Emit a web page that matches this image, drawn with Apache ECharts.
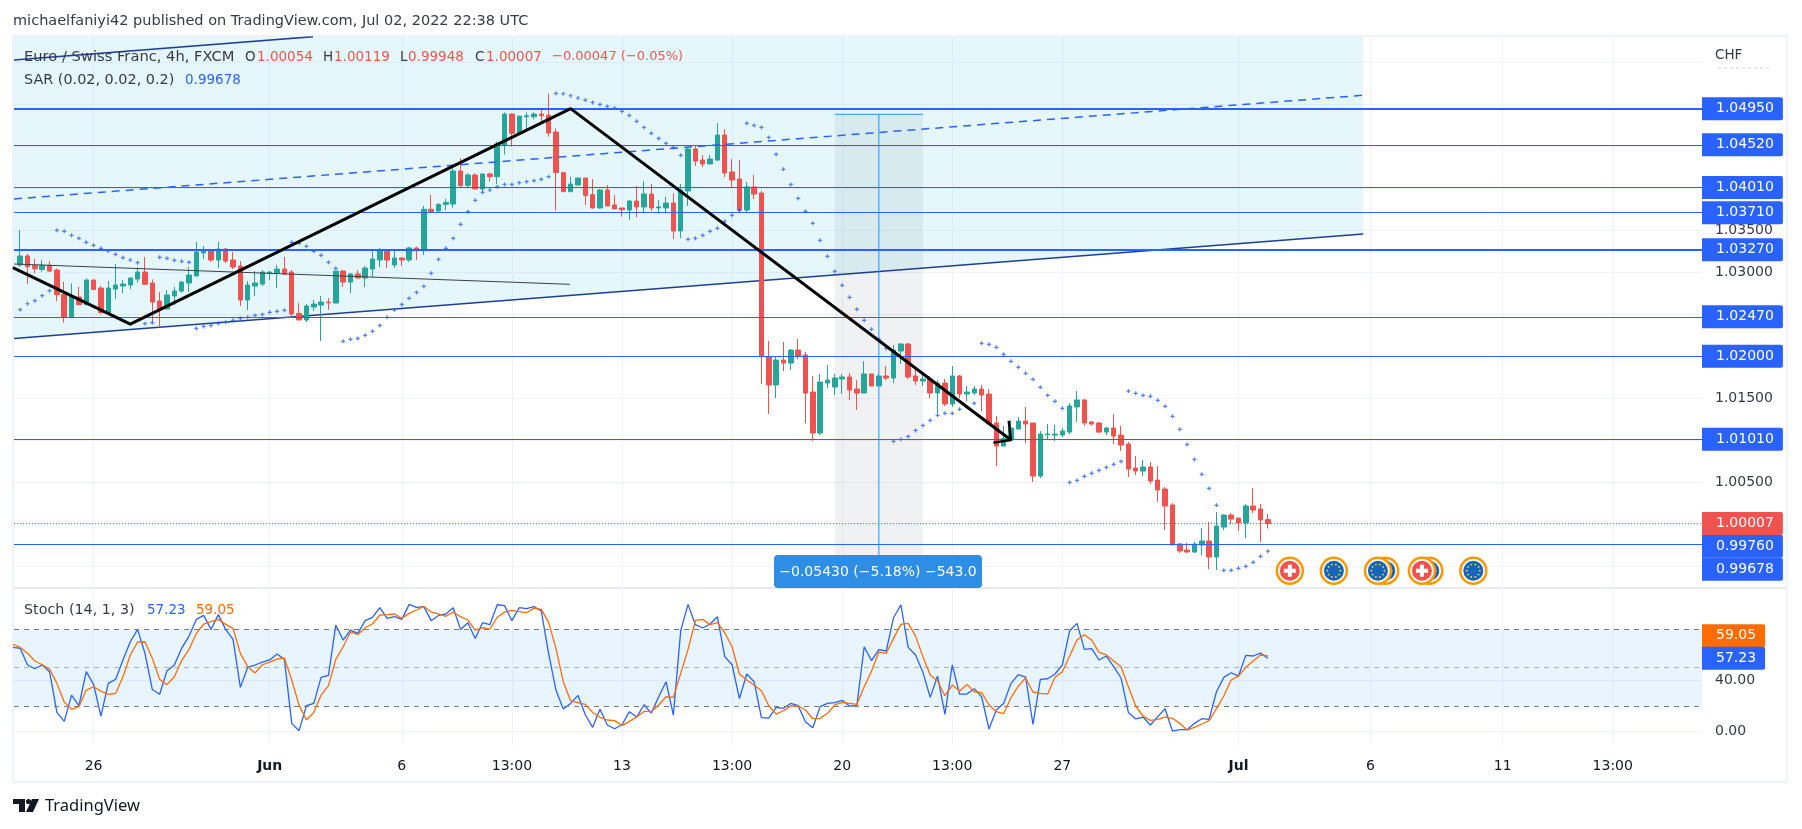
<!DOCTYPE html>
<html>
<head>
<meta charset="utf-8">
<title>EURCHF</title>
<script src="https://cdn.jsdelivr.net/npm/echarts@6/dist/echarts.min.js"></script>
<style>html,body{margin:0;padding:0;background:#fff}#main{width:1802px;height:829px}</style>
</head>
<body>
<div id="main"></div>
<script>
// candles, 4h bars, index 0 is the first whole bar on screen
var opens=[
1.03088,1.03195,1.03080,1.03035,1.03084,1.03027,1.02737,1.02464,1.02706,1.02614,
1.02908,1.02813,1.02519,1.02801,1.02837,1.02849,1.02920,1.03003,1.02873,1.02658,
1.02563,1.02718,1.02777,1.02873,1.02956,1.03231,1.03266,1.03147,1.03278,1.03147,
1.03075,1.02670,1.02837,1.02861,1.02992,1.02992,1.03039,1.03003,1.02511,1.02432,
1.02587,1.02610,1.02646,1.02634,1.03015,1.02884,1.02980,1.02932,1.03039,1.03147,
1.03254,1.03088,1.03171,1.03147,1.03290,1.03258,1.03751,1.03731,1.03810,1.03814,
1.04207,1.04037,1.04160,1.03993,1.04172,1.04140,1.04513,1.04886,1.04656,1.04854,
1.04854,1.04886,1.04874,1.04672,1.04188,1.03961,1.04040,1.04124,1.03925,1.03767,
1.03981,1.03802,1.03767,1.03743,1.03850,1.03779,1.03933,1.03767,1.03767,1.03826,
1.03493,1.03969,1.04469,1.04338,1.04291,1.04338,1.04636,1.04196,1.04112,1.03743,
1.04017,1.03945,1.01995,1.01658,1.01955,1.01919,1.02074,1.02015,1.01574,1.01085,
1.01681,1.01634,1.01729,1.01753,1.01610,1.01562,1.01789,1.01646,1.01765,1.01741,
1.02063,1.02146,1.01765,1.01705,1.01729,1.01562,1.01681,1.01431,1.01765,1.01550,
1.01562,1.01610,1.01550,1.01205,1.00930,1.01002,1.01133,1.01228,1.01205,1.00573,
1.01065,1.01061,1.01061,1.01097,1.01396,1.01479,1.01217,1.01205,1.01097,1.01145,
1.01061,1.00954,1.00668,1.00632,1.00680,1.00525,1.00418,1.00228,0.99763,0.99692,
0.99668,0.99751,0.99799,0.99608,0.99965,1.00108,1.00072,1.00013,1.00216,1.00180,1.00054];
var closes=[
1.03195,1.03067,1.03043,1.03084,1.03015,1.02734,1.02464,1.02710,1.02614,1.02908,
1.02797,1.02519,1.02813,1.02849,1.02861,1.02932,1.03003,1.02857,1.02646,1.02563,
1.02730,1.02777,1.02884,1.02968,1.03243,1.03266,1.03147,1.03278,1.03135,1.03063,
1.02670,1.02849,1.02873,1.03003,1.03003,1.03039,1.02980,1.02503,1.02432,1.02599,
1.02622,1.02646,1.02638,1.03015,1.02884,1.02980,1.02932,1.03051,1.03159,1.03266,
1.03147,1.03171,1.03147,1.03290,1.03258,1.03751,1.03723,1.03810,1.03834,1.04207,
1.04033,1.04160,1.03993,1.04172,1.04140,1.04529,1.04886,1.04656,1.04862,1.04866,
1.04886,1.04866,1.04660,1.04190,1.03961,1.04052,1.04124,1.03917,1.03767,1.03981,
1.03791,1.03755,1.03747,1.03850,1.03779,1.03933,1.03767,1.03779,1.03826,1.03493,
1.03981,1.04469,1.04326,1.04291,1.04350,1.04636,1.04184,1.04100,1.03743,1.04017,
1.03933,1.01995,1.01658,1.01955,1.01919,1.02074,1.02003,1.01562,1.01085,1.01693,
1.01717,1.01741,1.01753,1.01598,1.01562,1.01789,1.01646,1.01765,1.01741,1.02074,
1.02146,1.01753,1.01705,1.01729,1.01562,1.01681,1.01431,1.01765,1.01550,1.01574,
1.01610,1.01538,1.01193,1.00930,1.01021,1.01145,1.01228,1.01193,1.00573,1.01073,
1.01073,1.01073,1.01109,1.01408,1.01479,1.01205,1.01193,1.01097,1.01145,1.01049,
1.00942,1.00656,1.00632,1.00680,1.00513,1.00406,1.00216,0.99751,0.99680,0.99668,
0.99763,0.99799,0.99608,0.99977,1.00108,1.00060,1.00013,1.00216,1.00168,1.00049,1.00007];
var lows=[
1.03067,1.02861,1.02988,1.03007,1.03007,1.02658,1.02400,1.02452,1.02614,1.02614,
1.02789,1.02503,1.02503,1.02682,1.02749,1.02801,1.02876,1.02849,1.02400,1.02345,
1.02563,1.02610,1.02757,1.02765,1.02956,1.03159,1.03124,1.03051,1.03111,1.03039,
1.02599,1.02551,1.02718,1.02837,1.02908,1.02813,1.02968,1.02456,1.02432,1.02408,
1.02539,1.02182,1.02551,1.02634,1.02825,1.02753,1.02932,1.02825,1.02944,1.03063,
1.03051,1.03051,1.03075,1.03124,1.03147,1.03207,1.03703,1.03723,1.03743,1.03771,
1.04001,1.04001,1.03993,1.03961,1.04080,1.04052,1.04406,1.04497,1.04656,1.04696,
1.04823,1.04767,1.04616,1.03735,1.03961,1.03961,1.04040,1.03802,1.03759,1.03759,
1.03791,1.03755,1.03663,1.03624,1.03659,1.03703,1.03731,1.03703,1.03703,1.03398,
1.03409,1.03791,1.04267,1.04255,1.04291,1.04326,1.04136,1.04017,1.03719,1.03719,
1.03874,1.01670,1.01312,1.01502,1.01824,1.01836,1.01967,1.01200,1.00990,1.01061,
1.01622,1.01538,1.01550,1.01479,1.01360,1.01562,1.01646,1.01646,1.01717,1.01681,
1.01908,1.01729,1.01658,1.01646,1.01502,1.01324,1.01408,1.01396,1.01502,1.01467,
1.01538,1.01348,1.01193,1.00692,1.00930,1.01002,1.01133,1.00966,1.00501,1.00549,
1.01002,1.00990,1.01037,1.01073,1.01217,1.01172,1.01172,1.01085,1.01061,1.00954,
1.00871,1.00561,1.00585,1.00573,1.00477,1.00263,0.99930,0.99751,0.99656,0.99656,
0.99656,0.99628,0.99465,0.99453,0.99930,1.00001,0.99918,0.99834,1.00132,0.99787,0.99948];
var highs=[
1.03505,1.03219,1.03159,1.03147,1.03135,1.03047,1.02888,1.02869,1.02829,1.02928,
1.02916,1.02837,1.02896,1.03099,1.02908,1.02940,1.03059,1.03183,1.02916,1.02765,
1.02789,1.02825,1.02896,1.03063,1.03362,1.03314,1.03266,1.03362,1.03290,1.03243,
1.03135,1.02896,1.03015,1.03027,1.03015,1.03088,1.03183,1.03027,1.02634,1.02622,
1.02670,1.02718,1.02694,1.03015,1.03027,1.02992,1.03027,1.03075,1.03266,1.03290,
1.03266,1.03266,1.03183,1.03302,1.03306,1.03791,1.03921,1.03822,1.03874,1.04239,
1.04362,1.04180,1.04180,1.04180,1.04188,1.04557,1.04906,1.04894,1.04862,1.04906,
1.04906,1.04950,1.05132,1.04716,1.04188,1.04140,1.04124,1.04124,1.04112,1.03993,
1.04040,1.03921,1.03767,1.03862,1.04029,1.04088,1.04052,1.03862,1.03902,1.03941,
1.04052,1.04481,1.04505,1.04398,1.04398,1.04779,1.04708,1.04350,1.04338,1.04076,
1.04160,1.03969,1.02182,1.01995,1.02170,1.02086,1.02206,1.02051,1.01765,1.01789,
1.01896,1.01789,1.01789,1.01801,1.01717,1.01943,1.01789,1.01789,1.01884,1.02134,
1.02158,1.02158,1.01848,1.01812,1.01765,1.01717,1.01729,1.01884,1.01777,1.01646,
1.01646,1.01658,1.01610,1.01288,1.01172,1.01240,1.01276,1.01396,1.01205,1.01109,
1.01193,1.01181,1.01145,1.01443,1.01586,1.01491,1.01229,1.01217,1.01157,1.01312,
1.01172,1.00978,1.00811,1.00763,1.00740,1.00692,1.00442,1.00251,0.99775,0.99775,
0.99787,0.99953,1.00025,1.00144,1.00120,1.00132,1.00072,1.00239,1.00430,1.00239,1.00119];
var sarValues=[
1.02555,1.02626,1.02662,1.02722,1.02781,1.03501,1.03489,1.03441,1.03405,1.03358,
1.03322,1.03286,1.03254,1.03215,1.03175,1.03147,1.03115,1.02388,1.02400,1.03179,
1.03167,1.03143,1.03131,1.03119,1.02333,1.02356,1.02368,1.02392,1.02404,1.02428,
1.02452,1.02464,1.02487,1.02499,1.02523,1.02535,1.02547,1.03358,1.03346,1.03310,
1.03250,1.03203,1.03119,1.03047,1.02178,1.02202,1.02213,1.02249,1.02297,1.02368,
1.02464,1.02551,1.02618,1.02690,1.02761,1.02833,1.02988,1.03155,1.03286,1.03405,
1.03572,1.03723,1.03858,1.03953,1.03981,1.04021,1.04048,1.04048,1.04068,1.04080,
1.04092,1.04108,1.04140,1.05132,1.05128,1.05104,1.05077,1.05053,1.05025,1.05001,
1.04977,1.04957,1.04917,1.04870,1.04799,1.04727,1.04656,1.04596,1.04537,1.04489,
1.04394,1.03393,1.03405,1.03441,1.03489,1.03524,1.03608,1.03679,1.03739,1.04775,
1.04751,1.04727,1.04608,1.04406,1.04227,1.04048,1.03881,1.03727,1.03584,1.03382,
1.03191,1.03011,1.02845,1.02702,1.02559,1.02428,1.02321,1.02202,1.02094,1.00986,
1.01010,1.01045,1.01117,1.01176,1.01236,1.01296,1.01320,1.01320,1.01368,1.01392,
1.01439,1.02154,1.02142,1.02106,1.02023,1.01940,1.01868,1.01797,1.01725,1.01630,
1.01535,1.01463,1.01380,1.00497,1.00521,1.00569,1.00605,1.00640,1.00676,1.00712,
1.00747,1.01585,1.01558,1.01535,1.01523,1.01475,1.01404,1.01284,1.01129,1.00950,
1.00771,1.00593,1.00426,1.00224,0.99449,0.99449,0.99473,0.99497,0.99545,0.99616,0.99678];
// stochastic, these two start one bar earlier, at index -1
var stochK=[65.6,
64.9,51.9,49.0,51.9,46.7,15.0,8.0,28.5,20.2,46.7,
36.8,12.2,37.6,40.7,55.8,70.0,79.6,61.0,32.9,29.1,
47.5,51.9,64.9,74.4,87.4,90.5,79.6,91.1,79.6,71.9,
34.5,50.1,51.9,54.2,55.8,60.4,56.3,6.5,0.8,20.2,
22.0,42.3,43.8,83.0,71.3,79.1,76.5,86.4,89.0,96.5,
88.2,89.5,87.4,99.1,96.8,97.3,86.4,90.5,91.6,96.5,
79.6,84.8,72.6,84.8,83.3,98.8,98.1,86.4,96.5,95.7,
97.3,93.9,61.0,32.4,17.6,22.0,28.3,13.2,3.4,17.5,
5.2,2.3,5.4,15.6,11.4,21.0,14.5,27.2,38.9,13.0,
78.6,99.1,83.3,80.7,83.8,89.5,58.4,52.1,25.7,44.9,
38.9,10.9,10.6,18.9,18.2,22.0,20.2,7.8,3.1,19.5,
22.0,22.6,24.4,20.0,20.2,66.1,55.3,63.8,62.8,88.7,
98.8,65.6,59.7,46.2,26.7,43.3,13.5,51.9,29.3,29.3,
33.5,27.2,2.1,16.9,22.0,37.6,44.4,42.5,5.7,40.7,
41.2,44.9,51.9,78.6,84.3,64.1,64.6,55.8,58.9,50.6,
41.8,15.0,9.9,11.4,5.2,11.7,17.9,0.5,1.6,1.6,
6.5,10.1,9.6,31.1,42.3,45.9,43.3,59.4,58.9,61.2,57.23];
var stochD=[68.0,
65.6,61.0,55.0,52.1,48.8,37.6,23.1,17.4,19.5,32.4,
35.0,31.6,29.1,29.8,42.8,59.7,69.8,70.0,57.1,40.7,
36.6,42.8,55.3,64.1,76.5,83.8,85.6,87.4,83.5,80.4,
61.0,50.6,45.7,52.1,54.2,56.5,57.3,40.2,20.5,9.3,
15.0,28.5,35.8,56.3,66.1,77.6,75.7,80.9,83.8,90.8,
91.1,91.6,88.2,92.1,94.7,97.5,93.1,91.6,89.8,93.1,
89.5,86.9,79.1,80.9,79.9,89.0,93.1,94.4,93.4,92.6,
96.2,95.2,85.1,64.9,38.9,23.9,22.6,21.3,15.0,11.2,
9.1,8.6,4.7,8.0,11.4,15.8,15.8,20.8,27.2,26.7,
45.4,64.1,86.6,87.4,83.3,84.8,77.0,66.1,44.9,40.2,
36.3,31.9,20.2,13.7,16.3,20.0,20.2,16.9,10.1,10.4,
14.3,20.8,22.8,22.0,21.3,35.0,47.0,62.0,61.0,72.6,
83.5,84.3,74.4,58.4,44.1,39.4,28.0,36.3,31.6,36.8,
31.1,30.4,21.0,15.6,14.0,26.5,35.5,41.8,30.9,29.8,
29.3,42.3,46.7,58.9,71.3,75.5,71.3,61.7,59.7,55.0,
50.6,35.0,20.0,12.2,8.8,9.6,11.4,10.4,6.5,1.3,
3.4,6.0,8.6,17.9,27.8,40.2,43.3,50.1,55.0,59.7,59.05];

// time axis ticks
var tickIndex=[10,34,52,67,82,97,112,127,142,166,184,202,217];
var tickLabels=['26','Jun','6','13:00','13','13:00','20','13:00','27','Jul','6','11','13:00'];
var monthLabels=['Jun','Jul'];
// price axis
var priceGrid=[1.055,1.05,1.045,1.04,1.035,1.03,1.025,1.02,1.015,1.01,1.005,1,0.995];
var priceTicks=[1.035,1.03,1.015,1.005];
var stochTicks=[40,0];
// horizontal levels drawn on the chart
var levelPrices=[1.0452,1.0401,1.0371,1.0247,1.02,1.0101,0.9976];
var heavyLevels=[1.0495,1.0327];
var lastPrice=1.00007;
var lastSar=0.99678;
// drawings, [bar index, price]
var zigzag=[[-1,1.03055],[15,1.02384],[75,1.0495],[135,1.01002]];
var arrowHead=[[134.7,1.01231],[135,1.01002],[132.6,1.00971]];
var channelLow=[[-0.845,1.02213],[183,1.03457]];
var channelHigh=[[-0.845,1.0553],[39.9,1.05808]];
var channelMid=[[-0.845,1.03874],[183,1.0511]];
var thinTrend=[[-0.845,1.03099],[74.9,1.02857]];
var rangeBars=[111,117,123];
var rangePrices=[1.04883,0.99453];
// economic calendar flags, in drawing order
var flagBars=[173,179,186,185,192,191,198];
var flagKinds=['CH','EU','EU','EU','EU','CH','EU'];
var flagPrice=0.99445;

var UP='#26a69a', DOWN='#ef5350', BLUE='#2962ff', ORANGE='#ff6d00', GRID='#f0f3fa';
var FONT='"DejaVu Sans", sans-serif';
var xMin=-0.845, xMax=229.16;

var candleData=opens.map(function(o,i){return [i,o,closes[i],lows[i],highs[i]];});
var sarData=sarValues.map(function(v,i){return [i,v];});
var kData=stochK.map(function(v,i){return [i-1,v];});
var dData=stochD.map(function(v,i){return [i-1,v];});

function boxLabel(bg,dy){
    return {show:true,position:'end',distance:0,offset:[0,dy||0],color:'#fff',backgroundColor:bg,
        fontFamily:FONT,fontSize:14,padding:[4,9,4,14],borderRadius:[0,2,2,0],lineHeight:15,
        formatter:function(p){return Number(p.value).toFixed(5);}};
}
function levelLine(price,width,dy){
    return {yAxis:price,lineStyle:{color:BLUE,width:width,type:'solid'},label:boxLabel(BLUE,dy)};
}
var levelData=[];
heavyLevels.forEach(function(p){levelData.push(levelLine(p,2,0));});
levelPrices.forEach(function(p){levelData.push(levelLine(p,1,p<1?2:0));});
levelData.push({yAxis:lastPrice,lineStyle:{color:DOWN,width:1,type:[1,2]},label:boxLabel(DOWN,0)});
levelData.push({yAxis:lastSar,lineStyle:{color:'rgba(0,0,0,0)'},label:boxLabel(BLUE,18)});

function stochBox(bg,dy){
    return {show:true,position:'end',distance:0,offset:[0,dy],color:'#fff',backgroundColor:bg,
        fontFamily:FONT,fontSize:14,padding:[4,9,4,14],borderRadius:[0,2,2,0],lineHeight:15,
        formatter:function(p){return Number(p.value).toFixed(2);}};
}

function drawing(data,color,width,extra){
    var s={type:'line',data:data,symbol:'none',silent:true,z:6,animation:false,
        lineStyle:{color:color,width:width}};
    for(var k in extra){s[k]=extra[k];}
    return s;
}

function renderFlag(params,api){
    var c=api.coord([api.value(0),api.value(1)]);
    var kind=flagKinds[params.dataIndex];
    var kids=[
        {type:'circle',shape:{cx:c[0],cy:c[1],r:13},style:{fill:'#fff',stroke:'#ff9800',lineWidth:2.5}},
        {type:'circle',shape:{cx:c[0],cy:c[1],r:10},style:{fill:kind==='CH'?'#ef5350':'#1565c0'}}
    ];
    if(kind==='CH'){
        kids.push({type:'rect',shape:{x:c[0]-6,y:c[1]-2,width:12,height:4},style:{fill:'#fff'}});
        kids.push({type:'rect',shape:{x:c[0]-2,y:c[1]-6,width:4,height:12},style:{fill:'#fff'}});
    }else{
        for(var a=0;a<10;a++){
            kids.push({type:'circle',shape:{cx:c[0]+6.5*Math.cos(a*Math.PI/5),cy:c[1]+6.5*Math.sin(a*Math.PI/5),r:0.9},style:{fill:'#fdd835'}});
        }
    }
    return {type:'group',children:kids};
}

function txt(x,y,s,color,size,family){
    return {type:'text',x:x,y:y,silent:true,z:20,style:{text:s,fill:color,font:(size||13.5)+'px '+(family||FONT),textVerticalAlign:'middle'}};
}
var INK='#131722', GREY='#363a45';
var graphics=[
    {type:'rect',silent:true,z:0,shape:{x:13,y:36,width:1774,height:746},style:{fill:'none',stroke:GRID,lineWidth:2}},
    {type:'line',silent:true,z:0,shape:{x1:14,y1:588,x2:1786,y2:588},style:{stroke:'#e0e3eb',lineWidth:1.5}},
    txt(13,21,'michaelfaniyi42 published on TradingView.com, Jul 02, 2022 22:38 UTC',GREY,14.5),
    txt(24,57,'Euro / Swiss Franc, 4h, FXCM',GREY,14.7),
    txt(245,57,'O',GREY),txt(257,57,'1.00054',DOWN),
    txt(323,57,'H',GREY),txt(334,57,'1.00119',DOWN),
    txt(400,57,'L',GREY),txt(408,57,'0.99948',DOWN),
    txt(475,57,'C',GREY),txt(486,57,'1.00007',DOWN),
    txt(552,57,'\u22120.00047 (\u22120.05%)',DOWN,13),
    txt(24,80,'SAR (0.02, 0.02, 0.2)',GREY,14.4),txt(185,80,'0.99678',BLUE),
    txt(24,610,'Stoch (14, 1, 3)',GREY,14.3),txt(147,610,'57.23',BLUE),txt(196,610,'59.05',ORANGE),
    txt(1715,55,'CHF',GREY),
    {type:'line',silent:true,z:20,shape:{x1:1718,y1:68,x2:1770,y2:68},style:{stroke:'#d1d4dc',lineWidth:1,lineDash:[3,3]}},
    {type:'rect',silent:true,z:21,shape:{x:774,y:555,width:208,height:33,r:4},style:{fill:'#2e8de5'}},
    {type:'text',silent:true,z:22,x:878,y:572,style:{text:'\u22120.05430 (\u22125.18%) \u2212543.0',fill:'#fff',font:'14px '+FONT,textAlign:'center',textVerticalAlign:'middle'}},
    // logo
    {type:'polygon',silent:true,z:20,shape:{points:[[13,799],[25,799],[25,812],[19,812],[19,804],[13,804]]},style:{fill:INK}},
    {type:'circle',silent:true,z:20,shape:{cx:28.5,cy:801.5,r:2.6},style:{fill:INK}},
    {type:'polygon',silent:true,z:20,shape:{points:[[32,799],[39,799],[33,812],[26,812]]},style:{fill:INK}},
    txt(45,806,'TradingView',INK,16.5,'"Noto Sans", sans-serif')
];

var myChart=echarts.init(document.getElementById('main'),null,{renderer:'canvas'});
var option={
    animation:false,
    backgroundColor:'#fff',
    graphic:graphics,
    grid:[
        {left:14,top:37,width:1688,height:551},
        {left:14,top:589,width:1688,height:156}
    ],
    xAxis:[0,1].map(function(g){
        return {type:'value',gridIndex:g,min:xMin,max:xMax,
            axisLine:{show:false},
            axisTick:{show:false,customValues:tickIndex},
            splitLine:{show:true,lineStyle:{color:GRID,width:1}},
            axisLabel:{show:g===1,customValues:tickIndex,margin:14,color:INK,fontFamily:FONT,fontSize:14,
                formatter:function(v){
                    var s=tickLabels[tickIndex.indexOf(v)];
                    return monthLabels.indexOf(s)>=0?'{b|'+s+'}':s;
                },
                rich:{b:{fontWeight:'bold',color:INK,fontFamily:FONT,fontSize:14}}}
        };
    }),
    yAxis:[
        {type:'value',gridIndex:0,position:'right',min:0.99239,max:1.05804,
            axisLine:{show:false},
            axisTick:{show:false,customValues:priceGrid},
            splitLine:{show:true,lineStyle:{color:GRID,width:1}},
            axisLabel:{customValues:priceTicks,margin:13,color:GREY,fontFamily:FONT,fontSize:14,
                formatter:function(v){return v.toFixed(5);}}},
        {type:'value',gridIndex:1,position:'right',min:-10.35,max:111.05,
            axisLine:{show:false},
            axisTick:{show:false,customValues:stochTicks},
            splitLine:{show:true,lineStyle:{color:GRID,width:1}},
            axisLabel:{customValues:stochTicks,margin:13,color:GREY,fontFamily:FONT,fontSize:14,
                formatter:function(v){return v.toFixed(2);}}}
    ],
    series:[
        // channel fill up to the top of the pane
        {type:'line',data:channelLow,symbol:'none',silent:true,z:1,
            lineStyle:{color:'#1c3f94',width:1.5},
            areaStyle:{origin:'end',color:'rgba(0,175,210,0.1)',opacity:1}},
        {type:'candlestick',data:candleData,barWidth:5,large:false,silent:true,z:3,
            encode:{x:0,y:[1,2,3,4]},
            itemStyle:{color:UP,color0:DOWN,borderColor:UP,borderColor0:DOWN,borderWidth:1},
            markArea:{silent:true,itemStyle:{color:'rgba(120,123,134,0.11)'},
                data:[[{coord:[rangeBars[0],rangePrices[0]]},{coord:[rangeBars[2],rangePrices[1]]}]]},
            markLine:{silent:true,symbol:'none',animation:false,precision:5,data:levelData}
        },
        {type:'scatter',data:sarData,symbol:'path://M1.4,0H2.6V1.4H4V2.6H2.6V4H1.4V2.6H0V1.4H1.4Z',symbolSize:4,silent:true,z:4,
            itemStyle:{color:BLUE}},
        drawing(channelHigh,'#1c3f94',1.5),
        drawing(channelMid,BLUE,1.5,{lineStyle:{color:BLUE,width:1.5,type:[8,6]}}),
        drawing(thinTrend,'#3c3f46',1),
        drawing([[rangeBars[1],rangePrices[0]],[rangeBars[1],rangePrices[1]]],'#2196f3',1),
        drawing([[rangeBars[0],rangePrices[0]],[rangeBars[2],rangePrices[0]]],'#2196f3',1),
        drawing([[rangeBars[0],rangePrices[1]],[rangeBars[2],rangePrices[1]]],'#2196f3',1),
        drawing(zigzag,'#000',3,{z:7}),
        drawing(arrowHead,'#000',2.5,{z:7}),
        {type:'custom',data:flagBars.map(function(b){return [b,flagPrice];}),renderItem:renderFlag,silent:true,z:8,
            encode:{x:0,y:1}},
        {type:'line',xAxisIndex:1,yAxisIndex:1,data:kData,symbol:'none',silent:true,z:4,
            lineStyle:{color:BLUE,width:1.3},
            markArea:{silent:true,itemStyle:{color:'rgba(33,150,243,0.1)'},data:[[{yAxis:80},{yAxis:20}]]},
            markLine:{silent:true,symbol:'none',animation:false,precision:2,data:[
                {yAxis:80,lineStyle:{color:'#787b86',type:[5,5],width:1},label:{show:false}},
                {yAxis:50,lineStyle:{color:'rgba(120,123,134,0.55)',type:[5,5],width:1},label:{show:false}},
                {yAxis:20,lineStyle:{color:'#787b86',type:[5,5],width:1},label:{show:false}},
                {yAxis:stochD[stochD.length-1],lineStyle:{color:'rgba(0,0,0,0)'},label:stochBox(ORANGE,-20)},
                {yAxis:stochK[stochK.length-1],lineStyle:{color:'rgba(0,0,0,0)'},label:stochBox(BLUE,0)}
            ]}},
        {type:'line',xAxisIndex:1,yAxisIndex:1,data:dData,symbol:'none',silent:true,z:5,
            lineStyle:{color:ORANGE,width:1.3}}
    ]
};
myChart.setOption(option);
</script>
</body>
</html>
